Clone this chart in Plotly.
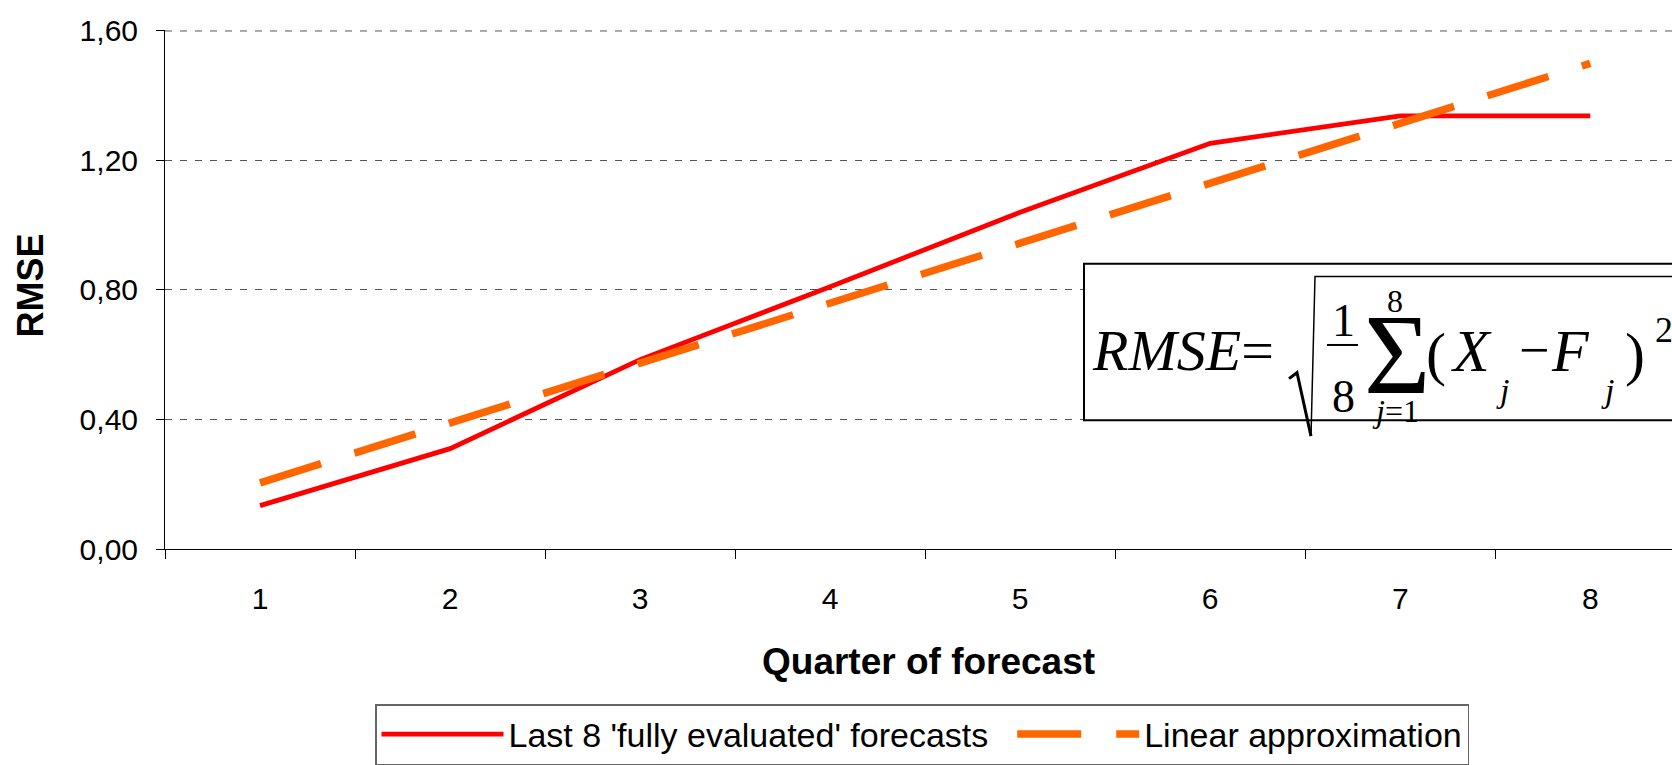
import plotly.graph_objects as go

# Forecast horizon (quarters) and RMSE values
quarters = ["1", "2", "3", "4", "5", "6", "7", "8"]
rmse_last8 = [0.134, 0.31, 0.585, 0.81, 1.04, 1.253, 1.338, 1.338]
rmse_linear = [0.204, 0.389, 0.574, 0.76, 0.945, 1.13, 1.315, 1.50]
y_ticks = [0.0, 0.4, 0.8, 1.2, 1.6]

W, H = 1672, 765
L, R, T, B = 165, 0, 30, 211
PW, PH = W - L - R, H - T - B


def px(x):
    """pixel column -> paper x"""
    return (x - L) / PW


def py(y):
    """pixel row -> paper y"""
    return (H - B - y) / PH


fig = go.Figure()
fig.add_trace(go.Scatter(
    x=quarters, y=rmse_last8, mode="lines",
    name="Last 8 'fully evaluated' forecasts\u00a0\u00a0",
    line=dict(color="#FF0000", width=4.8),
))
fig.add_trace(go.Scatter(
    x=quarters, y=rmse_linear, mode="lines",
    name="Linear approximation",
    line=dict(color="#FF6600", width=7.5, dash="64px,35px"),
))

serif = "Liberation Serif, Times New Roman, serif"
sans = "Liberation Sans, Arial, sans-serif"

grid_style = dict(color="#555555", width=1, dash="7px,8px")

shapes = [
    # gridline at the top of the value range
    dict(type="line", xref="paper", yref="y", x0=0, x1=1,
         y0=y_ticks[-1], y1=y_ticks[-1], line=grid_style, layer="below"),
    # formula frame
    dict(type="rect", xref="paper", yref="paper",
         x0=px(1084), x1=px(1700), y0=py(424), y1=py(266),
         line=dict(color="black", width=2), fillcolor="white", layer="above"),
    # radical sign: short lead-in, thick down-stroke, thin up-stroke and vinculum
    dict(type="path", xref="paper", yref="paper",
         path=f"M {px(1289)} {py(382)} L {px(1297)} {py(376)} L {px(1311)} {py(440)}",
         line=dict(color="black", width=3), layer="above"),
    dict(type="path", xref="paper", yref="paper",
         path=f"M {px(1311)} {py(440)} L {px(1315)} {py(279)} L {px(1700)} {py(279)}",
         line=dict(color="black", width=1.5), layer="above"),
    # fraction bar
    dict(type="line", xref="paper", yref="paper",
         x0=px(1327), x1=px(1358), y0=py(348), y1=py(348),
         line=dict(color="black", width=2), layer="above"),
]


def txt(s, x, y, size, xanchor="center"):
    return dict(text=s, xref="paper", yref="paper", x=px(x), y=py(y),
                xanchor=xanchor, yanchor="middle", showarrow=False,
                font=dict(family=serif, size=size, color="black"))


annotations = [
    txt("<i>RMSE</i>=", 1090, 354, 58, xanchor="left"),
    txt("1", 1343, 323, 46),
    txt("8", 1343, 400, 46),
    txt("Σ", 1397, 358, 114),
    txt("8", 1395, 304, 32),
    txt("<i>j</i>=1", 1395, 415, 32),
    txt("(", 1436, 357, 60),
    txt("<i>X</i>", 1471, 354, 60),
    txt("<i>j</i>", 1502, 394, 34),
    txt("−", 1534, 353, 54),
    txt("<i>F</i>", 1570, 354, 60),
    txt("<i>j</i>", 1607, 394, 34),
    txt(")", 1635, 357, 60),
    txt("2", 1664, 333, 36),
    # axis titles
    dict(text="<b>Quarter of forecast</b>", xref="paper", yref="paper",
         x=px(928), y=py(668), xanchor="center", yanchor="middle", showarrow=False,
         font=dict(family=sans, size=37, color="black")),
    dict(text="<b>RMSE</b>", xref="paper", yref="paper", textangle=-90,
         x=px(31), y=py(288), xanchor="center", yanchor="middle", showarrow=False,
         font=dict(family=sans, size=36, color="black")),
]

fig.update_layout(
    width=W, height=H, autosize=False,
    margin=dict(l=L, r=R, t=T, b=B, pad=0),
    paper_bgcolor="white", plot_bgcolor="white",
    separators=",.",
    font=dict(family=sans, size=30, color="black"),
    shapes=shapes, annotations=annotations,
    showlegend=True,
    legend=dict(
        orientation="h", x=px(375), y=py(711), xanchor="left", yanchor="top",
        bordercolor="#666666", borderwidth=1.5, bgcolor="white",
        font=dict(family=sans, size=34, color="black"),
        itemwidth=122, tracegroupgap=0,
    ),
    xaxis=dict(
        type="category", range=[-0.5, 7.43],
        tickson="boundaries", ticks="outside", ticklen=9, tickcolor="black",
        showline=True, linecolor="black", linewidth=1, showgrid=False,
        zeroline=False, ticklabelstandoff=23,
        tickfont=dict(family=sans, size=30, color="black"),
    ),
    yaxis=dict(
        range=[0, 1.603], tickvals=y_ticks, tickformat=".2f",
        ticks="outside", ticklen=8, tickcolor="black",
        showline=True, linecolor="black", linewidth=1,
        showgrid=True, gridcolor="#555555", gridwidth=1, griddash="7px,8px",
        zeroline=False, ticklabelstandoff=12,
        tickfont=dict(family=sans, size=30, color="black"),
    ),
)

fig.write_html("out.html")
